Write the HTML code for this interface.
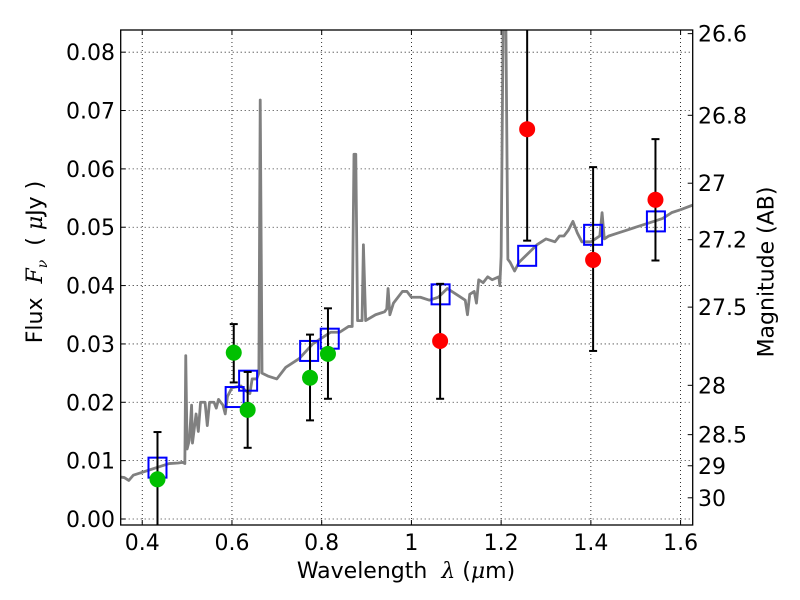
<!DOCTYPE html>
<html><head><meta charset="utf-8"><style>
body{margin:0;background:#fff}
svg{display:block;font-family:"DejaVu Sans","Liberation Sans",sans-serif}
</style></head><body>
<svg id="c" width="800" height="600"></svg>
<script>
const specX=[0.35,0.36,0.37,0.38,0.40,0.42,0.44,0.46,0.48,0.49,0.495,0.497,0.50,0.505,0.51,0.512,0.52,0.525,0.53,0.54,0.545,0.55,0.56,0.565,0.57,0.58,0.585,0.59,0.60,0.62,0.63,0.64,0.645,0.655,0.66,0.663,0.667,0.68,0.70,0.72,0.75,0.78,0.80,0.82,0.84,0.86,0.868,0.872,0.876,0.88,0.89,0.893,0.898,0.92,0.94,0.945,0.948,0.952,0.96,0.98,0.99,1.0,1.02,1.04,1.06,1.08,1.10,1.12,1.125,1.13,1.14,1.145,1.15,1.16,1.17,1.18,1.195,1.197,1.20,1.205,1.21,1.215,1.22,1.23,1.24,1.26,1.28,1.30,1.32,1.33,1.34,1.35,1.36,1.37,1.38,1.40,1.42,1.425,1.43,1.44,1.46,1.48,1.50,1.52,1.54,1.56,1.58,1.60,1.627];
const specY=[0.0072,0.0071,0.0066,0.0075,0.0080,0.0085,0.0090,0.0095,0.0096,0.0097,0.0095,0.028,0.0120,0.0135,0.0195,0.013,0.018,0.015,0.020,0.020,0.016,0.020,0.020,0.019,0.0205,0.0195,0.0180,0.021,0.0225,0.0228,0.022,0.0215,0.024,0.024,0.025,0.0718,0.025,0.0245,0.024,0.026,0.0275,0.030,0.031,0.032,0.032,0.033,0.033,0.0625,0.0625,0.034,0.034,0.047,0.034,0.035,0.0355,0.036,0.0395,0.035,0.037,0.039,0.039,0.038,0.038,0.0375,0.038,0.0395,0.0385,0.0375,0.035,0.0385,0.039,0.037,0.041,0.0405,0.0415,0.041,0.0415,0.040,0.045,0.09,0.09,0.0445,0.044,0.0425,0.044,0.0455,0.047,0.048,0.0475,0.0485,0.0485,0.0495,0.051,0.049,0.0475,0.0475,0.0485,0.0525,0.048,0.0485,0.049,0.0495,0.050,0.0505,0.051,0.0515,0.0525,0.053,0.0538];
const greenX=[0.434,0.604,0.635,0.774,0.814];
const greenY=[0.0068,0.0285,0.0187,0.0242,0.0283];
const greenLo=[-0.01,0.0234,0.0122,0.0169,0.0206];
const greenHi=[0.0149,0.0334,0.0252,0.0316,0.0361];
const redX=[1.064,1.258,1.405,1.544];
const redY=[0.0305,0.0668,0.0444,0.0547];
const redLo=[0.0206,0.0477,0.0288,0.0443];
const redHi=[0.0403,0.10,0.0603,0.0651];
const modelX=[0.434,0.606,0.636,0.772,0.818,1.065,1.258,1.405,1.545];
const modelY=[0.0088,0.0209,0.0237,0.0288,0.0309,0.0385,0.0451,0.0487,0.0510];
const xTicks=[0.4,0.6,0.8,1.0,1.2,1.4,1.6];
const xTickLabels=["0.4","0.6","0.8","1","1.2","1.4","1.6"];
const yTicks=[0,0.01,0.02,0.03,0.04,0.05,0.06,0.07,0.08];
const yTickLabels=["0.00","0.01","0.02","0.03","0.04","0.05","0.06","0.07","0.08"];
const magTicks=[26.6,26.8,27,27.2,27.5,28,28.5,29,30];
const magTickLabels=["26.6","26.8","27","27.2","27.5","28","28.5","29","30"];

const L=120.7,R=692.7,T=30,B=525;
const X0=0.352,X1=1.627,Y0=-0.00103,Y1=0.0838;
const sx=v=>L+(v-X0)/(X1-X0)*(R-L);
const sy=v=>B-(v-Y0)/(Y1-Y0)*(B-T);
const NS="http://www.w3.org/2000/svg";
const svg=document.getElementById('c');
function mk(tag,at,parent){const e=document.createElementNS(NS,tag);for(const k in at)e.setAttribute(k,at[k]);(parent||svg).appendChild(e);return e;}
const defs=mk('defs',{});const cp=mk('clipPath',{id:'pc'},defs);mk('rect',{x:L,y:T,width:R-L,height:B-T},cp);

xTicks.forEach((t,i)=>{
 const g=mk('line',{x1:sx(t),x2:sx(t),y1:T,y2:B,stroke:'#000','stroke-width':0.8,'stroke-dasharray':'1,3'});
 
 
 mk('line',{x1:sx(t),x2:sx(t),y1:B,y2:B-5,stroke:'#000'});
 mk('line',{x1:sx(t),x2:sx(t),y1:T,y2:T+5,stroke:'#000'});
 const tx=mk('text',{x:sx(t),y:B+25,'text-anchor':'middle','font-size':22});tx.textContent=xTickLabels[i];
 
 
});
yTicks.forEach((t,i)=>{
 const g=mk('line',{x1:L,x2:R,y1:sy(t),y2:sy(t),stroke:'#000','stroke-width':0.8,'stroke-dasharray':'1,3'});
 
 
 mk('line',{x1:L,x2:L+5,y1:sy(t),y2:sy(t),stroke:'#000'});
 const tx=mk('text',{x:115,y:sy(t)+8,'text-anchor':'end','font-size':22});tx.textContent=yTickLabels[i];
 
 
});
magTicks.forEach((m,i)=>{
 const f=Math.pow(10,(23.9-m)/2.5);const y=sy(f);
 mk('line',{x1:R,x2:R-5,y1:y,y2:y,stroke:'#000'});
 const tx=mk('text',{x:698,y:y+8,'font-size':22});tx.textContent=magTickLabels[i];
 
 
});

const pg=mk('g',{'clip-path':'url(#pc)'});
const sp=mk('polyline',{points:specX.map((x,i)=>sx(x)+','+sy(specY[i])).join(' '),fill:'none',stroke:'#808080','stroke-width':2.8,'stroke-linejoin':'round'},pg);



function errbar(x,lo,hi){
 const g=mk('g',{},pg);
 
 
 mk('line',{x1:sx(x),x2:sx(x),y1:sy(lo),y2:sy(hi),stroke:'#000','stroke-width':2},g);
 [lo,hi].forEach(v=>mk('line',{x1:sx(x)-4,x2:sx(x)+4,y1:sy(v),y2:sy(v),stroke:'#000','stroke-width':2},g));
}
modelX.forEach((x,i)=>{
 const r=mk('rect',{x:sx(x)-9,y:sy(modelY[i])-10,width:18,height:20,fill:'none',stroke:'#0000ff','stroke-width':2},pg);
 
 
});
greenX.forEach((x,i)=>{
 errbar(x,greenLo[i],greenHi[i]);
 const c=mk('circle',{cx:sx(x),cy:sy(greenY[i]),r:8,fill:'#00c000'},pg);
 
 
});
redX.forEach((x,i)=>{
 errbar(x,redLo[i],redHi[i]);
 const c=mk('circle',{cx:sx(x),cy:sy(redY[i]),r:8,fill:'#ff0000'},pg);
 
 
});
const fr=mk('rect',{x:L,y:T,width:R-L,height:B-T,fill:'none',stroke:'#000','stroke-width':1.3});


</script>
<div style="position:absolute;left:0;top:0;width:800px;height:600px;pointer-events:none;font-family:'DejaVu Sans','Liberation Sans',sans-serif">
 <div style="position:absolute;left:0;width:812px;top:559px;text-align:center;font-size:22px">Wavelength&nbsp; <i style="font-family:'DejaVu Serif',serif">λ</i> (<i style="font-family:'DejaVu Serif',serif">μ</i>m)</div>
 <div style="position:absolute;left:37px;top:262px;transform:translate(-50%,-50%) rotate(-90deg);white-space:nowrap;font-size:22px">Flux&nbsp; <i style="font-family:'DejaVu Serif',serif">F<sub style="font-size:14px">ν</sub></i>&nbsp; ( <i style="font-family:'DejaVu Serif',serif">μ</i>Jy )</div>
 <div style="position:absolute;left:767px;top:272px;transform:translate(-50%,-50%) rotate(-90deg);white-space:nowrap;font-size:22px">Magnitude (AB)</div>
</div>
</body></html>
